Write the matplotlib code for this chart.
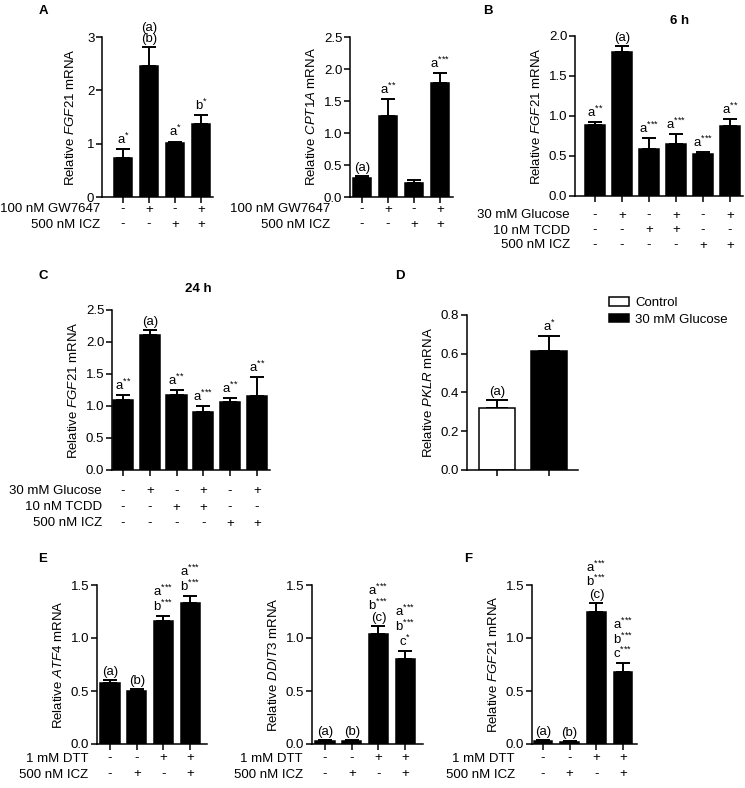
import numpy as np
import matplotlib
matplotlib.use('Agg')
import matplotlib.pyplot as plt
from matplotlib.patches import Patch
from matplotlib.transforms import blended_transform_factory

plt.rcParams['font.family'] = ['Liberation Sans', 'DejaVu Sans']
plt.rcParams['mathtext.fontset'] = 'custom'
plt.rcParams['mathtext.rm'] = 'Liberation Sans'
plt.rcParams['mathtext.it'] = 'Liberation Sans:italic'
plt.rcParams['mathtext.bf'] = 'Liberation Sans:bold'

S1 = '$^{{*}}$'
S2 = '$^{{*}{*}}$'
S3 = '$^{{*}{*}{*}}$'

# ---- data ----
# A (FGF21)
a1_vals = [0.73, 2.46, 1.01, 1.37]
a1_err = [0.17, 0.35, 0.03, 0.16]
a1_notes = ['a' + S1, '(a)\n(b)', 'a' + S1, 'b' + S1]
# A (CPT1A)
a2_vals = [0.29, 1.27, 0.22, 1.78]
a2_err = [0.04, 0.26, 0.04, 0.15]
a2_notes = ['(a)', 'a' + S2, '', 'a' + S3]
a_rows = ['100 nM GW7647', '500 nM ICZ']
a_signs = [['-', '+', '-', '+'], ['-', '-', '+', '+']]

# B (6 h)
b_vals = [0.89, 1.80, 0.59, 0.65, 0.52, 0.87]
b_err = [0.03, 0.07, 0.13, 0.12, 0.03, 0.09]
b_notes = ['a' + S2, '(a)', 'a' + S3, 'a' + S3, 'a' + S3, 'a' + S2]
# C (24 h)
c_vals = [1.09, 2.11, 1.17, 0.90, 1.06, 1.15]
c_err = [0.08, 0.08, 0.08, 0.10, 0.07, 0.30]
c_notes = ['a' + S2, '(a)', 'a' + S2, 'a' + S3, 'a' + S2, 'a' + S2]
bc_rows = ['30 mM Glucose', '10 nM TCDD', '500 nM ICZ']
bc_signs = [['-', '+', '-', '+', '-', '+'],
            ['-', '-', '+', '+', '-', '-'],
            ['-', '-', '-', '-', '+', '+']]

# D (PKLR)
d_groups = ['Control', '30 mM Glucose']
d_vals = [0.32, 0.615]
d_err = [0.04, 0.075]
d_notes = ['(a)', 'a' + S1]

# E / F
e1_vals = [0.58, 0.50, 1.16, 1.33]
e1_err = [0.02, 0.02, 0.05, 0.07]
e1_notes = ['(a)', '(b)', 'a' + S3 + '\nb' + S3, 'a' + S3 + '\nb' + S3]
e2_vals = [0.03, 0.03, 1.04, 0.80]
e2_err = [0.005, 0.005, 0.07, 0.08]
e2_notes = ['(a)', '(b)', 'a' + S3 + '\nb' + S3 + '\n(c)', 'a' + S3 + '\nb' + S3 + '\nc' + S1]
f_vals = [0.03, 0.02, 1.25, 0.68]
f_err = [0.005, 0.005, 0.08, 0.08]
f_notes = ['(a)', '(b)', 'a' + S3 + '\nb' + S3 + '\n(c)', 'a' + S3 + '\nb' + S3 + '\nc' + S3]
ef_rows = ['1 mM DTT', '500 nM ICZ']
ef_signs = [['-', '-', '+', '+'], ['-', '+', '-', '+']]

W, H = 745, 788
FS = 9.5
LW = 1.1
fig = plt.figure(figsize=(W / 100, H / 100), dpi=100)


def bar_panel(box, xlim, vals, errs, notes, yticks, fmt, ylabel,
              width=0.73, colors=None, cap=5.2):
    left, top, right, bottom = box
    ax = fig.add_axes([left / W, 1 - bottom / H, (right - left) / W, (bottom - top) / H])
    x = np.arange(len(vals))
    if colors is None:
        colors = ['black'] * len(vals)
    # upper error bars only; the bars are drawn on top of the lower cap
    ax.errorbar(x, vals, yerr=[np.zeros(len(vals)), errs], fmt='none',
                ecolor='black', elinewidth=1.4, capsize=cap, capthick=1.4, zorder=1)
    ax.bar(x, vals, width, color=colors, edgecolor='black', linewidth=LW, zorder=2)
    for xi, v, e, n in zip(x, vals, errs, notes):
        if n:
            ax.annotate(n, (xi, v + e), xytext=(0, 1.5), textcoords='offset points',
                        ha='center', va='bottom', fontsize=FS, linespacing=0.95)
    ax.set_xlim(xlim)
    ax.set_ylim(yticks[0], yticks[-1])
    ax.set_yticks(yticks)
    ax.set_yticklabels([fmt.format(t) for t in yticks])
    ax.set_xticks(x)
    ax.set_xticklabels([])
    for s in ['top', 'right']:
        ax.spines[s].set_visible(False)
    for s in ['left', 'bottom']:
        ax.spines[s].set_linewidth(LW)
    ax.tick_params(length=4, width=LW, labelsize=FS, pad=1.5)
    ax.set_ylabel(ylabel, fontsize=FS, labelpad=4)
    return ax


def add_rows(ax, names, signs, ys, label_x):
    # ys are visual centres in pixels; text is placed on its baseline
    trans = blended_transform_factory(ax.transData, fig.transFigure)
    for name, row, y in zip(names, signs, ys):
        yb = 1 - (y + 4.5) / H
        fig.text(label_x / W, yb, name, ha='right', va='baseline', fontsize=FS)
        for xi, s in enumerate(row):
            ax.text(xi, yb, s, transform=trans, ha='center', va='baseline', fontsize=FS)


def label(x, y, s, ha='center'):
    fig.text(x / W, 1 - (y + 4.5) / H, s, ha=ha, va='baseline', fontsize=FS, weight='bold')


# A
ax = bar_panel((102, 37, 213, 197), (-0.81, 3.46), a1_vals, a1_err, a1_notes,
               [0, 1, 2, 3], '{:.0f}', r'Relative $\mathit{FGF21}$ mRNA', width=0.7)
ax.yaxis.labelpad = 7
add_rows(ax, a_rows, a_signs, [208, 223], 100)
ax = bar_panel((350, 37, 453, 197), (-0.46, 3.5), a2_vals, a2_err, a2_notes,
               [0, 0.5, 1.0, 1.5, 2.0, 2.5], '{:.1f}', r'Relative $\mathit{CPT1A}$ mRNA', width=0.72)
add_rows(ax, a_rows, a_signs, [208, 223], 330)

# B
ax = bar_panel((575, 36, 743, 196), (-0.74, 5.48), b_vals, b_err, b_notes,
               [0, 0.5, 1.0, 1.5, 2.0], '{:.1f}', r'Relative $\mathit{FGF21}$ mRNA', width=0.74)
add_rows(ax, bc_rows, bc_signs, [214, 229, 244], 570)

# C
ax = bar_panel((112, 310, 270, 470), (-0.41, 5.49), c_vals, c_err, c_notes,
               [0, 0.5, 1.0, 1.5, 2.0, 2.5], '{:.1f}', r'Relative $\mathit{FGF21}$ mRNA', width=0.75)
add_rows(ax, bc_rows, bc_signs, [490, 506, 522], 102)

# D
ax = bar_panel((467, 315, 578, 470), (-0.58, 1.56), d_vals, d_err, d_notes,
               [0, 0.2, 0.4, 0.6, 0.8], '{:.1f}', r'Relative $\mathit{PKLR}$ mRNA',
               width=0.69, colors=['white', 'black'], cap=8)
handles = [Patch(facecolor='white', edgecolor='black', linewidth=LW),
           Patch(facecolor='black', edgecolor='black', linewidth=LW)]
fig.legend(handles, d_groups, loc='upper left', bbox_to_anchor=(609 / W, 1 - 297 / H),
           frameon=False, fontsize=FS, handlelength=1.5, handleheight=0.6,
           handletextpad=0.5, labelspacing=0.35, borderpad=0, borderaxespad=0)

# E
ax = bar_panel((97, 585, 207, 744), (-0.49, 3.63), e1_vals, e1_err, e1_notes,
               [0, 0.5, 1.0, 1.5], '{:.1f}', r'Relative $\mathit{ATF4}$ mRNA', width=0.72)
add_rows(ax, ef_rows, ef_signs, [757, 773], 88)
ax = bar_panel((312, 585, 423, 744), (-0.49, 3.67), e2_vals, e2_err, e2_notes,
               [0, 0.5, 1.0, 1.5], '{:.1f}', r'Relative $\mathit{DDIT3}$ mRNA', width=0.72)
add_rows(ax, ef_rows, ef_signs, [757, 773], 303)

# F
ax = bar_panel((532, 585, 637, 744), (-0.41, 3.52), f_vals, f_err, f_notes,
               [0, 0.5, 1.0, 1.5], '{:.1f}', r'Relative $\mathit{FGF21}$ mRNA', width=0.7)
add_rows(ax, ef_rows, ef_signs, [757, 773], 515)

label(43, 10, 'A')
label(488, 10, 'B')
label(43, 275, 'C')
label(400, 275, 'D')
label(43, 557, 'E')
label(468, 557, 'F')
label(680, 20, '6 h')
label(198, 287, '24 h')

fig.savefig('out.png', dpi=100)
